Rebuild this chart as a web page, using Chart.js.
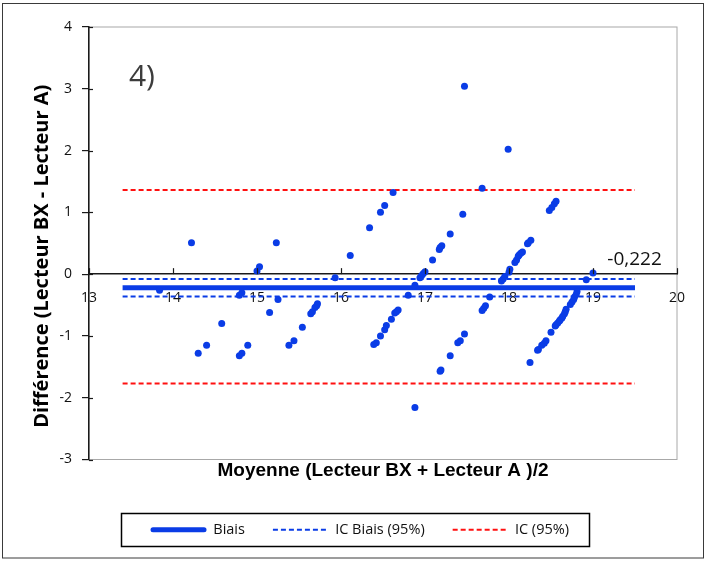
<!DOCTYPE html>
<html>
<head>
<meta charset="utf-8">
<script src="https://cdn.jsdelivr.net/npm/chart.js@4.4.1/dist/chart.umd.min.js"></script>
<style>
  html, body { margin: 0; padding: 0; background: #ffffff; }
  #wrap { position: relative; width: 706px; height: 569px; }
</style>
</head>
<body>
<div id="wrap"><canvas id="c" width="706" height="569"></canvas></div>
<script>
// ---- data ----
const meanX = [
  13.84, 14.22, 14.30, 14.40, 14.58, 14.79, 14.82, 14.79, 14.82, 14.89,
  15.00, 15.03, 15.23, 15.25, 15.15, 15.38, 15.44, 15.54, 15.64, 15.66,
  15.69, 15.71, 15.72, 15.93, 16.11, 16.34, 16.47, 16.52, 16.62, 16.39,
  16.42, 16.47, 16.52, 16.54, 16.60, 16.64, 16.66, 16.68, 16.80, 16.88,
  16.88, 16.94, 16.96, 16.98, 17.00, 17.09, 17.17, 17.18, 17.20, 17.30,
  17.45, 17.47, 17.68, 17.19, 17.18, 17.30, 17.39, 17.42, 17.47, 17.68,
  17.70, 17.72, 17.77, 17.91, 17.93, 17.95, 18.00, 18.01, 18.07, 18.09,
  18.11, 18.12, 18.14, 18.16, 18.22, 18.23, 18.26, 17.99, 18.48, 18.51,
  18.54, 18.56, 18.25, 18.34, 18.35, 18.39, 18.42, 18.44, 18.50, 18.55,
  18.56, 18.58, 18.60, 18.61, 18.63, 18.64, 18.66, 18.67, 18.68, 18.73,
  18.75, 18.77, 18.78, 18.80, 18.81, 18.92, 19.00
];
const diffY = [
  -0.26, 0.51, -1.28, -1.15, -0.80, -0.34, -0.30, -1.32, -1.28, -1.15,
   0.05, 0.12, 0.51, -0.41, -0.62, -1.15, -1.08, -0.86, -0.64, -0.61,
  -0.54, -0.51, -0.48, -0.06, 0.30, 0.75, 1.00, 1.11, 1.32, -1.14,
  -1.11, -1.00, -0.90, -0.83, -0.73, -0.63, -0.61, -0.58, -0.34, -0.18,
  -2.16, -0.06, -0.02, 0.01, 0.04, 0.23, 0.40, 0.43, 0.46, 0.65,
   0.97, 3.04, 1.39, -1.55, -1.57, -1.32, -1.11, -1.08, -0.97, -0.59,
  -0.55, -0.51, -0.37, -0.11, -0.08, -0.04, 0.03, 0.08, 0.19, 0.23,
   0.29, 0.31, 0.34, 0.36, 0.49, 0.51, 0.55, 2.02, 1.03, 1.08,
   1.14, 1.18, -1.43, -1.23, -1.22, -1.15, -1.12, -1.08, -0.94, -0.84,
  -0.82, -0.79, -0.76, -0.74, -0.71, -0.68, -0.64, -0.61, -0.57, -0.49,
  -0.45, -0.41, -0.37, -0.33, -0.28, -0.09, 0.02
];
const bias = -0.222;
const biasCI = [-0.08, -0.36];
const limitsCI = [1.36, -1.77];
const lineRangeX = [13.4, 19.5];
const xTicks = [13, 14, 15, 16, 17, 18, 19, 20];
const yTicks = [-3, -2, -1, 0, 1, 2, 3, 4];
const legendLabels = ['Biais', 'IC Biais (95%)', 'IC (95%)'];
const biasText = '-0,222';
const panelText = '4)';
const xTitle = 'Moyenne (Lecteur BX + Lecteur A )/2';
const yTitle = 'Différence (Lecteur BX - Lecteur A)';

// ---- build datasets ----
const BLUE = '#0a3ce6';
const RED = '#ff1010';
const pts = meanX.map((x, i) => ({ x: x, y: diffY[i] }));
function hline(v) { return [{ x: lineRangeX[0], y: v }, { x: lineRangeX[1], y: v }]; }
function twoLines(a, b) { return [...hline(a), { x: lineRangeX[1], y: null }, ...hline(b)]; }

const annot = { panelAt: { x: 13.63, y: 3.19 }, biasLabelAt: { x: 19.17, y: 0.23 } };
const LEGEND_SAMPLE = 55;

const decor = {
  id: 'decor',
  beforeDraw(chart) {
    const { ctx, chartArea: a } = chart;
    ctx.save();
    ctx.strokeStyle = '#3a3a3a';
    ctx.lineWidth = 1;
    ctx.strokeRect(2.5, 3.5, 701, 554.5);
    ctx.strokeStyle = '#a8a8a8';
    ctx.strokeRect(a.left, a.top, a.right - a.left, a.bottom - a.top);
    ctx.restore();
  },
  afterDraw(chart) {
    const { ctx, scales } = chart;
    const xs = scales.x, ys = scales.y;
    const y0 = ys.getPixelForValue(0);
    ctx.save();
    ctx.strokeStyle = '#1a1a1a';
    ctx.lineWidth = 1.2;
    xTicks.forEach(v => {
      const px = Math.round(xs.getPixelForValue(v)) + 0.5;
      ctx.beginPath(); ctx.moveTo(px, y0); ctx.lineTo(px, y0 - 6); ctx.stroke();
    });
    yTicks.forEach(v => {
      const py = Math.round(ys.getPixelForValue(v)) + 0.5;
      ctx.beginPath(); ctx.moveTo(xs.left, py); ctx.lineTo(xs.left + 4, py); ctx.stroke();
    });
    ctx.fillStyle = '#3c3c3c';
    ctx.font = '30px "Open Sans"';
    ctx.textAlign = 'center'; ctx.textBaseline = 'middle';
    ctx.fillText(panelText, xs.getPixelForValue(annot.panelAt.x), ys.getPixelForValue(annot.panelAt.y));
    ctx.fillStyle = '#111';
    ctx.font = '19px "Open Sans"';
    ctx.textAlign = 'left';
    ctx.fillText(biasText, xs.getPixelForValue(annot.biasLabelAt.x), ys.getPixelForValue(annot.biasLabelAt.y));
    ctx.save();
    ctx.translate(42, (chart.chartArea.top + chart.chartArea.bottom) / 2 + 13);
    ctx.rotate(-Math.PI / 2);
    ctx.font = 'bold 20px "Open Sans"';
    ctx.fillStyle = '#000';
    ctx.textAlign = 'center'; ctx.textBaseline = 'middle';
    ctx.fillText(yTitle, 0, 0);
    ctx.restore();
    // legend samples (dashed lines) and frame
    const hb = chart.legend.legendHitBoxes;
    const items = chart.legend.legendItems;
    if (hb && hb.length) {
      hb.forEach((h, i) => {
        const ds = chart.data.datasets[items[i].datasetIndex];
        const cy = h.top + h.height / 2;
        ctx.save();
        ctx.strokeStyle = ds.borderColor;
        ctx.lineWidth = ds.borderWidth;
        ctx.lineCap = ds.borderWidth > 3 ? 'round' : 'butt';
        ctx.setLineDash(ds.borderDash || []);
        ctx.beginPath();
        ctx.moveTo(h.left + (ds.borderWidth > 3 ? 2 : 0), cy);
        ctx.lineTo(h.left + LEGEND_SAMPLE - (ds.borderWidth > 3 ? 2 : 0), cy);
        ctx.stroke();
        ctx.restore();
      });
      const l = Math.min(...hb.map(h => h.left));
      const r = Math.max(...hb.map(h => h.left + h.width));
      const cy = hb[0].top + hb[0].height / 2;
      ctx.strokeStyle = '#000';
      ctx.lineWidth = 1.5;
      ctx.strokeRect(Math.round(l - 30) + 0.5, Math.round(cy - 16.5) + 0.5, Math.round(r - l + 50), 33);
    }
    ctx.restore();
  }
};

new Chart(document.getElementById('c'), {
  data: {
    datasets: [
      { type: 'scatter', label: 'points', data: pts, backgroundColor: BLUE, borderWidth: 0, pointRadius: 3.5, pointHoverRadius: 3.5 },
      { type: 'line', label: legendLabels[0], data: hline(bias), borderColor: BLUE, backgroundColor: BLUE, borderWidth: 5, pointRadius: 0, fill: false },
      { type: 'line', label: legendLabels[1], data: twoLines(biasCI[0], biasCI[1]), borderColor: BLUE, backgroundColor: BLUE, borderWidth: 2, borderDash: [5, 3], pointRadius: 0, spanGaps: false, fill: false },
      { type: 'line', label: legendLabels[2], data: twoLines(limitsCI[0], limitsCI[1]), borderColor: RED, backgroundColor: RED, borderWidth: 2, borderDash: [5, 3], pointRadius: 0, spanGaps: false, fill: false }
    ]
  },
  options: {
    responsive: false,
    animation: false,
    devicePixelRatio: 1,
    layout: { padding: { left: 17, right: 3, top: 27, bottom: 22 } },
    plugins: {
      tooltip: { enabled: false },
      legend: {
        position: 'bottom',
        labels: {
          generateLabels: chart => Chart.defaults.plugins.legend.labels.generateLabels(chart)
            .filter(it => legendLabels.includes(it.text))
            .map(it => Object.assign(it, { fillStyle: 'rgba(0,0,0,0)', strokeStyle: 'rgba(0,0,0,0)', lineWidth: 0 })),
          usePointStyle: false,
          boxWidth: LEGEND_SAMPLE,
          boxHeight: 13,
          padding: 28,
          color: '#111',
          font: { family: '"Open Sans"', size: 14.5 }
        }
      }
    },
    scales: {
      x: {
        type: 'linear',
        position: { y: 0 },
        min: 13, max: 20,
        afterBuildTicks: s => { s.ticks = xTicks.map(v => ({ value: v })); },
        grid: { display: true, drawOnChartArea: false, drawTicks: false },
        border: { display: true, color: '#1a1a1a', width: 1.5 },
        ticks: { padding: 15, color: '#111', font: { family: '"Open Sans"', size: 14 }, maxRotation: 0 }
      },
      x2: {
        type: 'linear',
        position: 'bottom',
        min: 13, max: 20,
        afterFit: s => { s.height = 35; },
        grid: { display: false },
        border: { display: false },
        ticks: { display: false },
        title: { display: true, text: xTitle, color: '#000', font: { family: '"Liberation Sans"', size: 19, weight: 'bold' }, padding: { top: 0, bottom: 12 } }
      },
      y: {
        type: 'linear',
        position: 'left',
        min: -3, max: 4,
        afterBuildTicks: s => { s.ticks = yTicks.map(v => ({ value: v })); },
        afterFit: s => { s.width = 72; },
        grid: { display: true, drawOnChartArea: false, drawTicks: true, tickLength: 7, color: '#1a1a1a', lineWidth: 1.2 },
        border: { display: true, color: '#1a1a1a', width: 1.5 },
        ticks: { padding: 10, color: '#111', font: { family: '"Open Sans"', size: 14 } }
      },
      y2: {
        type: 'linear',
        position: 'right',
        min: -3, max: 4,
        afterFit: s => { s.width = 26; },
        grid: { display: false },
        border: { display: false },
        ticks: { display: false }
      }
    }
  },
  plugins: [decor]
});
</script>
</body>
</html>
